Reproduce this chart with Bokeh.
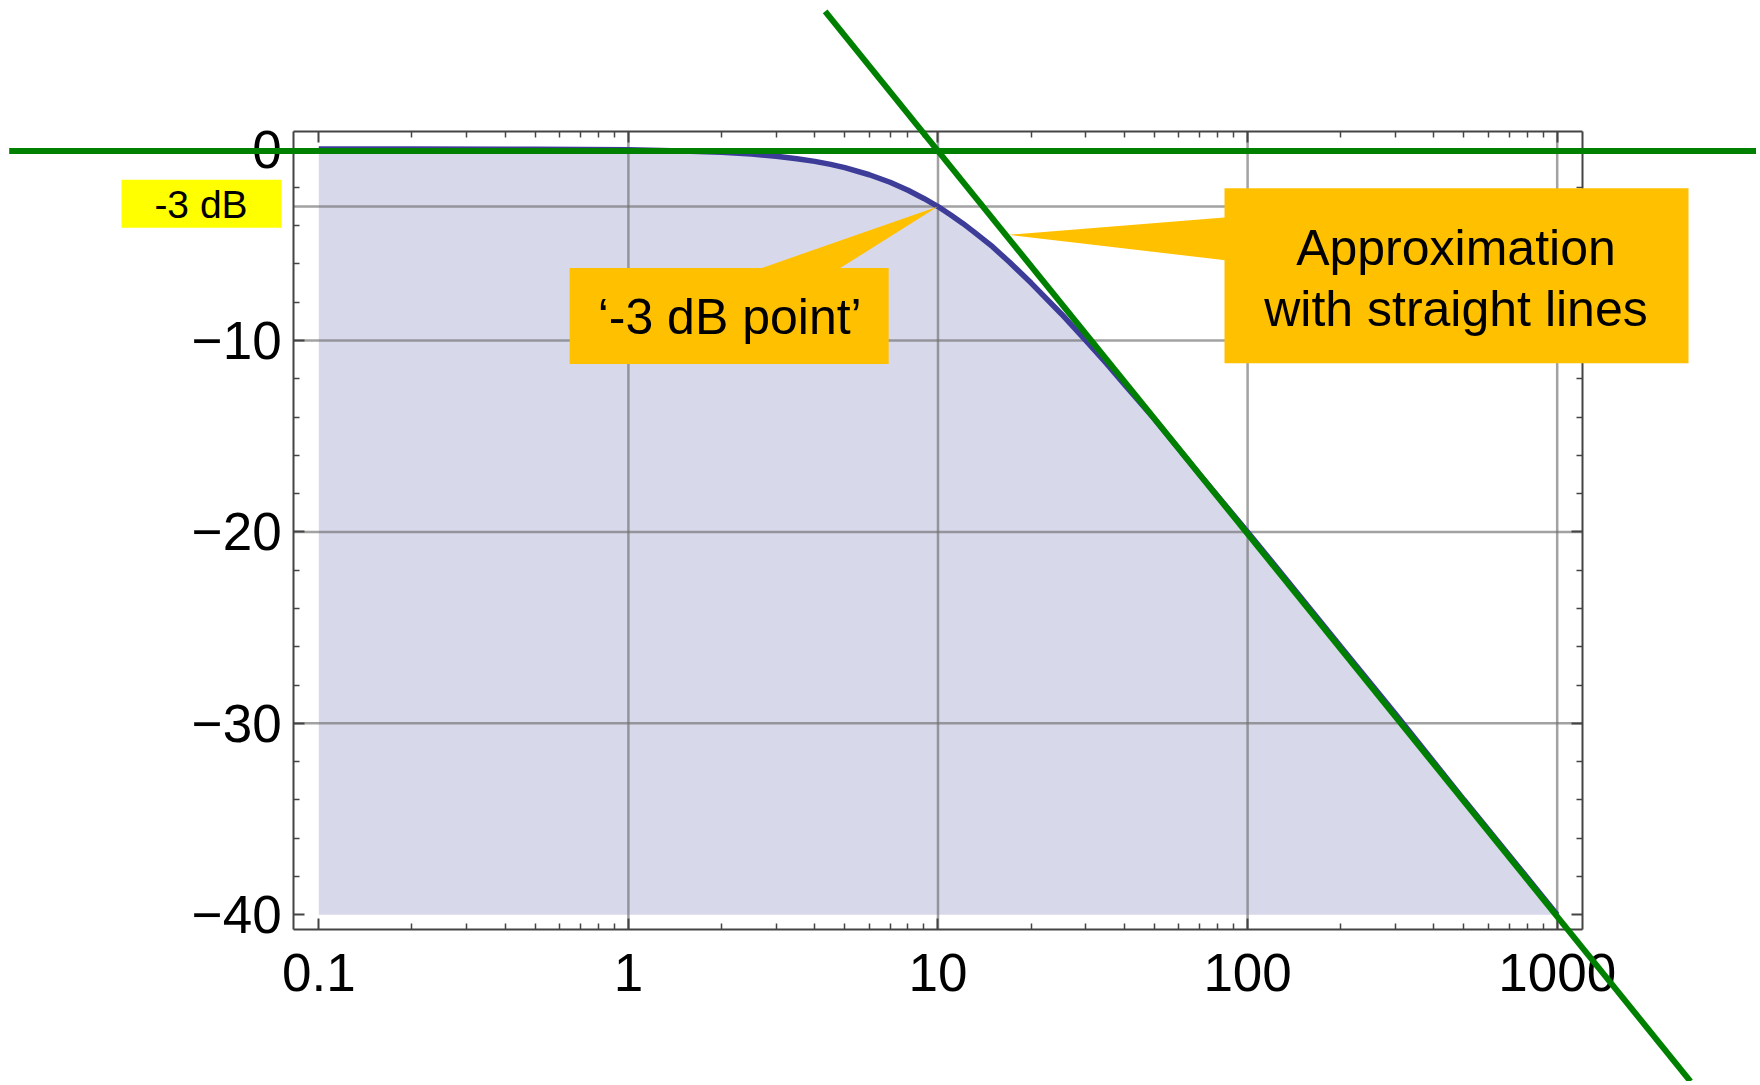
from bokeh.plotting import figure
from bokeh.models import LogAxis, LinearAxis, FixedTicker, Range1d
from bokeh.core.properties import value
from bokeh.embed import file_html
from bokeh.resources import INLINE

# ---------------- data ----------------
# magnitude response (normalised frequency, gain in dB)
freq = [0.1, 0.2, 0.5, 1, 1.5, 2, 2.5, 3, 3.5, 4, 4.5, 5, 6, 7, 8, 9, 10,
        11, 12, 13, 15, 17, 20, 25, 30, 35, 40, 50, 70, 100, 150, 200, 300,
        500, 700, 1000]
gain_db = [0.0, 0.0, -0.01, -0.04, -0.1, -0.17, -0.26, -0.37, -0.5, -0.64,
           -0.8, -0.97, -1.34, -1.73, -2.15, -2.58, -3.0, -3.44, -3.87, -4.3,
           -5.1, -5.9, -7.0, -8.6, -10.0, -11.2, -12.3, -14.1, -17.0, -20.0,
           -23.5, -26.0, -29.5, -34.0, -36.9, -40.0]
fill_floor_db = -40

# straight-line approximation (green)
flat_asym_f = [0.01, 10000]
flat_asym_db = [-0.1, -0.1]
slope_asym_f = [4.32, 2694]
slope_asym_db = [7.19, -48.71]

# ticks / grid
x_tick_values = [0.1, 1, 10, 100, 1000]
x_tick_labels = ["0.1", "1", "10", "100", "1000"]
x_minor_values = [m * d for d in (0.1, 1, 10, 100) for m in range(2, 10)]
y_tick_values = [0, -10, -20, -30, -40]
y_tick_labels = ["0", "\u221210", "\u221220", "\u221230", "\u221240"]
y_minor_values = [v for v in range(-38, 0, 2) if v % 10 != 0]
x_grid_values = [1, 10, 100, 1000]
y_grid_values = [-3, -10, -20, -30]

# annotation texts
db3_tag = "-3 dB"
point_text = "\u2018-3 dB point\u2019"
approx_lines = ["Approximation", "with straight lines"]

# ---------------- layout / geometry ----------------
x_box = (0.083, 1204)      # inner framed plot area (data units)
y_box = (-40.79, 0.92)
W, H = 1756, 1081

p = figure(width=W, height=H, x_axis_type="log",
           x_range=Range1d(0.009374, 4403), y_range=Range1d(-48.715, 7.764),
           output_backend="svg", toolbar_location=None, min_border=0)
p.outline_line_color = None
p.background_fill_color = "white"
p.border_fill_color = "white"
p.xgrid.visible = False
p.ygrid.visible = False

FONT = "Liberation Sans"
AX_COL = "#444444"


def both_keys(ticks, labels):
    d = {}
    for t, l in zip(ticks, labels):
        d[t] = l
        d[str(t)] = l
    return d


def style_axis(ax, ticks, minor, labels, loc, bounds, show, standoff):
    ax.fixed_location = loc
    ax.bounds = bounds
    ax.ticker = FixedTicker(ticks=ticks, minor_ticks=minor)
    ax.major_label_overrides = both_keys(ticks, labels if show else [""] * len(ticks))
    ax.axis_line_color = AX_COL
    ax.axis_line_width = 2
    ax.major_tick_line_color = AX_COL
    ax.major_tick_line_width = 2
    ax.minor_tick_line_color = AX_COL
    ax.minor_tick_line_width = 1.5
    ax.major_tick_in = 11
    ax.major_tick_out = 0
    ax.minor_tick_in = 6
    ax.minor_tick_out = 0
    ax.major_label_text_font = FONT
    ax.major_label_text_font_size = "53px"
    ax.major_label_text_color = "black"
    ax.major_label_standoff = standoff


style_axis(p.xaxis[0], x_tick_values, x_minor_values, x_tick_labels,
           y_box[0], x_box, True, 24)
style_axis(p.yaxis[0], y_tick_values, y_minor_values, y_tick_labels,
           x_box[0], y_box, True, 12)
top_ax = LogAxis()
style_axis(top_ax, x_tick_values, x_minor_values, x_tick_labels,
           y_box[1], x_box, False, 0)
p.add_layout(top_ax, "above")
right_ax = LinearAxis()
style_axis(right_ax, y_tick_values, y_minor_values, y_tick_labels,
           x_box[1], y_box, False, 0)
p.add_layout(right_ax, "right")

# filled area under the response
p.varea(x=freq, y1=[fill_floor_db] * len(freq), y2=gain_db,
        fill_color="#d8d8eb", level="image")

# grid lines (limited to the framed area)
n = len(x_grid_values)
p.segment(x0=x_grid_values, y0=[y_box[0]] * n, x1=x_grid_values, y1=[y_box[1]] * n,
          line_color="#707070", line_alpha=0.65, line_width=2.5)
m = len(y_grid_values)
p.segment(x0=[x_box[0]] * m, y0=y_grid_values, x1=[x_box[1]] * m, y1=y_grid_values,
          line_color="#707070", line_alpha=0.65, line_width=2.5)

# response curve
p.line(freq, gain_db, line_color="#3d3d99", line_width=5.5)

# ---------------- callouts ----------------
ORANGE = "#FFC000"
corner_f, corner_db = 10, -3

# yellow "-3 dB" tag beside the axis
p.rect(x=[0.0418], y=[-2.85], width=[160], height=[48],
       width_units="screen", height_units="screen",
       fill_color="#FFFF00", line_color=None, level="annotation")
p.text(x=[0.04164], y=[-2.88], text=[db3_tag], text_font=value(FONT),
       text_font_size=value("39px"), text_align="center",
       text_baseline="alphabetic", text_color="black", level="annotation")

# '-3 dB point' callout
p.patch(x=[2.58, 4.72, corner_f], y=[-6.32, -6.32, corner_db],
        fill_color=ORANGE, line_color=None, level="annotation")
p.rect(x=[2.116], y=[-8.72], width=[319], height=[96],
       width_units="screen", height_units="screen",
       fill_color=ORANGE, line_color=None, level="annotation")
p.text(x=[2.124], y=[-8.79], text=[point_text], text_font=value(FONT),
       text_font_size=value("50px"), text_align="center",
       text_baseline="alphabetic", text_color="black", level="annotation")

# 'Approximation with straight lines' callout
p.patch(x=[86.1, 86.1, 16.93], y=[-3.56, -5.82, -4.48],
        fill_color=ORANGE, line_color=None, level="annotation")
p.rect(x=[472.9], y=[-6.614], width=[464], height=[175],
       width_units="screen", height_units="screen",
       fill_color=ORANGE, line_color=None, level="annotation")
p.text(x=[471, 471], y=[-5.18, -8.35], text=approx_lines,
       text_font=value(FONT), text_font_size=value("50px"),
       text_align="center", text_baseline="alphabetic",
       text_color="black", level="annotation")

# green straight-line approximation
p.line(flat_asym_f, flat_asym_db, line_color="#008000", line_width=6, level="overlay")
p.line(slope_asym_f, slope_asym_db, line_color="#008000", line_width=6, level="overlay")

open("out.html", "w").write(file_html(p, INLINE))
